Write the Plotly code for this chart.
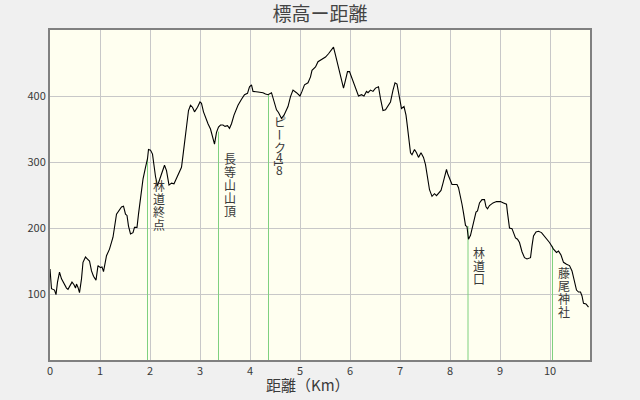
import numpy as np
import plotly.graph_objects as go

# ---- data ----
dist_km = [0.00, 0.03, 0.09, 0.12, 0.15, 0.19, 0.23, 0.26, 0.33, 0.36, 0.39, 0.44, 0.48, 0.51, 0.53, 0.56,
           0.59, 0.63, 0.66, 0.71, 0.75, 0.79, 0.83, 0.87, 0.92, 0.96, 1.01, 1.04, 1.07, 1.13, 1.19, 1.26,
           1.33, 1.37, 1.43, 1.47, 1.51, 1.54, 1.57, 1.61, 1.66, 1.69, 1.74, 1.77, 1.81, 1.86, 1.91, 1.95,
           1.97, 2.01, 2.05, 2.08, 2.11, 2.15, 2.20, 2.24, 2.29, 2.33, 2.38, 2.43, 2.48, 2.51, 2.57, 2.63,
           2.66, 2.69, 2.75, 2.77, 2.81, 2.85, 2.89, 2.95, 3.00, 3.03, 3.07, 3.11, 3.16, 3.21, 3.25, 3.29,
           3.33, 3.37, 3.41, 3.46, 3.50, 3.55, 3.59, 3.63, 3.68, 3.76, 3.83, 3.89, 3.95, 3.99, 4.03, 4.06,
           4.16, 4.26, 4.31, 4.36, 4.43, 4.48, 4.53, 4.57, 4.63, 4.68, 4.76, 4.81, 4.86, 4.93, 5.00, 5.04,
           5.09, 5.16, 5.21, 5.24, 5.31, 5.36, 5.41, 5.46, 5.51, 5.57, 5.63, 5.67, 5.71, 5.78, 5.83, 5.87,
           5.91, 5.95, 5.99, 6.03, 6.08, 6.13, 6.17, 6.23, 6.28, 6.33, 6.36, 6.41, 6.46, 6.51, 6.57, 6.61,
           6.66, 6.71, 6.76, 6.81, 6.86, 6.90, 6.94, 6.99, 7.03, 7.08, 7.12, 7.14, 7.17, 7.21, 7.24, 7.29,
           7.33, 7.37, 7.42, 7.47, 7.51, 7.55, 7.59, 7.64, 7.69, 7.73, 7.77, 7.82, 7.86, 7.91, 7.93, 7.95,
           8.00, 8.04, 8.09, 8.14, 8.17, 8.21, 8.24, 8.27, 8.31, 8.34, 8.37, 8.41, 8.45, 8.49, 8.52, 8.55,
           8.59, 8.64, 8.69, 8.72, 8.75, 8.79, 8.86, 8.93, 9.01, 9.07, 9.13, 9.15, 9.19, 9.24, 9.27, 9.31,
           9.35, 9.39, 9.44, 9.49, 9.54, 9.61, 9.64, 9.67, 9.72, 9.77, 9.83, 9.89, 9.94, 9.99, 10.03, 10.07,
           10.13, 10.17, 10.22, 10.27, 10.33, 10.39, 10.44, 10.49, 10.53, 10.57, 10.61, 10.64, 10.67, 10.72, 10.77]
elev_m = [138, 108, 106, 99, 118, 133, 123, 118, 109, 107, 112, 118, 114, 109, 115, 110,
          102, 123, 148, 156, 153, 150, 135, 127, 121, 143, 140, 141, 134, 158, 168, 186,
          221, 226, 232, 233, 221, 219, 203, 191, 193, 201, 201, 221, 244, 274, 292, 305,
          319, 318, 312, 292, 278, 264, 275, 287, 295, 287, 265, 268, 267, 272, 282, 292,
          310, 330, 365, 378, 386, 383, 376, 383, 391, 389, 376, 367, 358, 350, 340, 327,
          345, 353, 356, 356, 354, 355, 351, 358, 371, 386, 395, 402, 404, 414, 417, 407,
          406, 405, 403, 402, 405, 391, 379, 375, 366, 371, 384, 399, 409, 405, 400, 407,
          417, 420, 429, 439, 444, 452, 454, 457, 459, 464, 469, 474, 462, 442, 427, 412,
          424, 437, 437, 429, 417, 407, 400, 402, 400, 407, 405, 409, 407, 412, 414, 396,
          378, 379, 386, 391, 409, 420, 418, 394, 381, 384, 371, 359, 339, 314, 311, 319,
          314, 307, 314, 307, 296, 273, 258, 248, 252, 249, 253, 257, 268, 283, 289, 283,
          272, 266, 266, 266, 261, 243, 236, 223, 204, 202, 183, 189, 203, 213, 224, 226,
          238, 243, 243, 232, 229, 234, 238, 240, 240, 238, 236, 223, 200, 199, 193, 185,
          183, 178, 164, 155, 153, 155, 173, 188, 194, 195, 193, 188, 183, 178, 173, 168,
          163, 165, 159, 148, 145, 143, 135, 120, 106, 103, 103, 97, 86, 85, 80]

landmark_names = ["林道終点", "長等山山頂", "ピーク418", "林道口", "藤尾神社"]
landmark_dist = [1.95, 3.37, 4.37, 8.36, 10.05]
landmark_elev = [305, 346, 402, 203, 173]

x_ticks = list(range(0, 11))
y_ticks = [100, 200, 300, 400]

title_text = "標高ー距離"
x_title = "距離（Km）"

# ---- figure ----
fig = go.Figure()

for d, e in zip(landmark_dist, landmark_elev):
    fig.add_trace(go.Scatter(x=[d, d], y=[0, e], mode="lines",
                             line=dict(color="#7fd17f", width=1),
                             hoverinfo="skip", showlegend=False))

fig.add_trace(go.Scatter(x=dist_km, y=elev_m, mode="lines",
                         line=dict(color="black", width=1.1),
                         showlegend=False))

label_font = dict(family="Noto Sans CJK JP", size=12, color="#3a3a3a")
FULL, HALF = 13.0, 6.5
for name, d, e in zip(landmark_names, landmark_dist, landmark_elev):
    offset = 20.0
    for ch in name:
        adv = HALF if ch.isascii() else FULL
        rotate = ch in ("ー", "1")
        fig.add_annotation(x=d, y=e, xref="x", yref="y", text=ch, showarrow=False,
                           xanchor="center", yanchor="middle",
                           xshift=11, yshift=-(offset + adv / 2),
                           textangle=90 if rotate else 0,
                           font=label_font)
        offset += adv

fig.add_annotation(x=0.478, y=0, xref="paper", yref="paper", text=x_title,
                   showarrow=False, xanchor="center", yanchor="middle", yshift=-24,
                   font=dict(family="Noto Sans CJK JP", size=15, color="#3a3a3a"))

axis_common = dict(showgrid=True, gridcolor="#c8c8c8", gridwidth=1,
                   showline=True, linecolor="#808080", linewidth=2, mirror=True,
                   ticks="", zeroline=False,
                   tickfont=dict(family="Noto Sans CJK JP", size=11, color="#3a3a3a"))

fig.update_xaxes(range=[0, 10.8], tickvals=x_ticks, ticktext=[str(v) for v in x_ticks], **axis_common)
fig.update_yaxes(range=[0, 500], tickvals=y_ticks, ticktext=[str(v) for v in y_ticks], **axis_common)

fig.update_layout(
    width=640, height=400,
    margin=dict(l=50, r=50, t=30, b=40),
    paper_bgcolor="#f0f0f0", plot_bgcolor="#fffff0",
    title=dict(text=title_text, x=0.5, xanchor="center", y=0.963, yanchor="middle",
               yref="container",
               font=dict(family="Noto Sans CJK JP", size=19, color="#444444")),
    showlegend=False,
)

fig.write_html("out.html",
               config={"displayModeBar": False},
               post_script="document.body.style.margin='0';document.body.style.background='#f0f0f0';")
